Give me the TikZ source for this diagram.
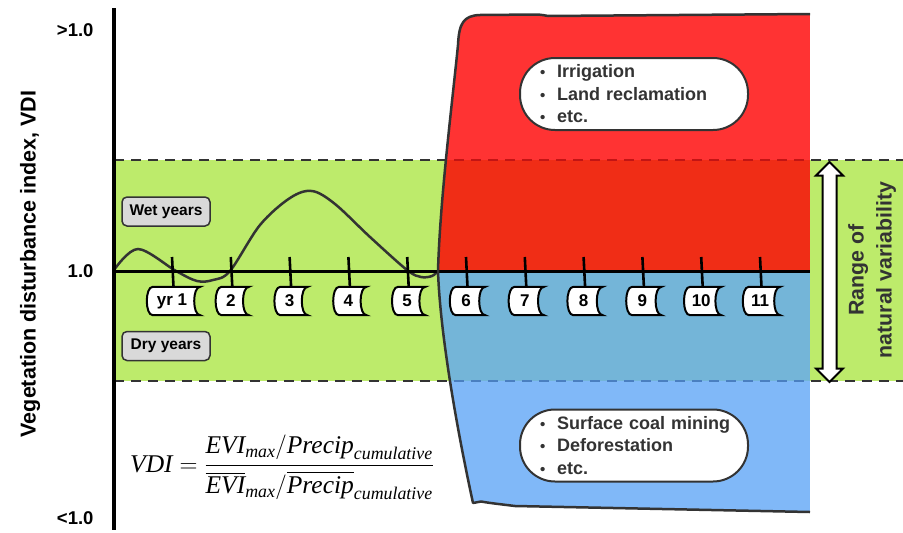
\documentclass[tikz,border=0pt]{standalone}
\usepackage{amsmath}
\usepackage{fontspec}
\setmainfont{Liberation Sans}
\newfontfamily\tnr{Liberation Serif}
\usetikzlibrary{calc}
\definecolor{vgreen}{RGB}{189,235,107}
\definecolor{redtop}{RGB}{255,51,51}
\definecolor{redmid}{RGB}{240,45,22}
\definecolor{bluemid}{RGB}{116,181,216}
\definecolor{bluebot}{RGB}{128,184,248}
\definecolor{dark}{RGB}{51,51,51}
\definecolor{dashred}{RGB}{195,20,20}
\definecolor{dashblue}{RGB}{74,127,192}
\definecolor{boxgray}{RGB}{217,217,217}
\newcommand\ti[1]{\text{\tnr\itshape #1}}
\newcommand\bul{\hspace*{5pt}\makebox[17pt][l]{\fontsize{15}{15}\selectfont\textbullet}}
\newcommand\yrlab[4]{%
  \coordinate (t#1) at (#2,257);
  \node[minimum width=#4pt, minimum height=28pt, inner sep=0pt] (#1) at (#2+1.5,301) {};
  \draw[yrshape] ([xshift=6pt]#1.north west) -- (#1.north east)
     .. controls ([xshift=-8pt]#1.north east) and ([xshift=-8pt]#1.south east) .. (#1.south east)
     -- ([xshift=6pt]#1.south west)
     .. controls ([xshift=-2pt]#1.south west) and ([xshift=-2pt]#1.north west) .. cycle;
  \node[yrtext] at ([xshift=-1.5pt]#1.center) {#3};
  \draw[line width=2.6pt] (t#1) -- (#1.north);
}
\def\shapepath{(810,14) -- (548,16) .. controls (544,15.2) .. (538,14.5) -- (480,15)
  .. controls (463,15.5) and (459,24) .. (458,45)
  .. controls (452,105) and (440,200) .. (438,271)
  .. controls (440,330) and (455,420) .. (473,503)
  -- (481,501.5) .. controls (490,503) .. (515,506) -- (810,512)}
\begin{document}
\begin{tikzpicture}[x=1pt,y=-1pt,
  yrshape/.style={draw=black, line width=2pt, fill=white},
  yrtext/.style={font=\fontsize{17}{17}\selectfont\bfseries},
  dashln/.style={line width=2.8pt, dash pattern=on 10pt off 7pt},
  graybox/.style={draw=dark, line width=1.5pt, fill=boxgray, rounded corners=5pt,
     minimum width=88pt, minimum height=29pt, inner sep=0pt, font=\fontsize{15.5}{15.5}\selectfont\bfseries},
  bulletbox/.style={draw=dark, line width=2pt, fill=white, rounded corners=35pt,
     minimum width=228pt, minimum height=72pt, inner xsep=15pt, text width=198pt, align=left,
     text=dark, font=\fontsize{18}{22.5}\selectfont\bfseries},
  axlab/.style={font=\fontsize{18.5}{18.5}\selectfont\bfseries, anchor=east}]
\useasboundingbox (0,0) rectangle (903,533);
% green band
\fill[vgreen] (114,160) rectangle (903,381);
% dashed range lines
\coordinate (dtl) at (114,160); \coordinate (dtr) at (903,160);
\coordinate (dbl) at (114,381); \coordinate (dbr) at (903,381);
\draw[dashln, dark] (dtl) -- (dtr);
\draw[dashln, dark] (dbl) -- (dbr);
% shape fills
\begin{scope}
  \clip \shapepath -- cycle;
  \fill[redtop] (400,0) rectangle (810,160);
  \fill[redmid] (400,160) rectangle (810,271);
  \fill[bluemid] (400,271) rectangle (810,381);
  \fill[bluebot] (400,381) rectangle (810,533);
  \draw[dashln, dashred] (dtl) -- (dtr);
  \draw[dashln, dashblue] (dbl) -- (dbr);
\end{scope}
% curve
\draw[dark, line width=2.5pt, line cap=round] plot[smooth, tension=0.55] coordinates
  {(114,270) (138,249) (176,271) (197,281) (213,280) (230,271) (260,225) (290,198)
   (312,191) (335,204) (370,237) (407,270) (421,277) (432,276) (438,271)};
% axes
\coordinate (ytop) at (114,8); \coordinate (ybot) at (114,530);
\coordinate (xl) at (114,271); \coordinate (xr) at (810,271);
\draw[line width=3pt] (xl) -- (xr);
\draw[line width=3.2pt] (ytop) -- (ybot);
% shape outline
\draw[dark, line width=2.5pt, line join=round] \shapepath;
% years
\yrlab{y1}{172}{yr 1}{53}
\yrlab{y2}{230.8}{2}{33}
\yrlab{y3}{289.6}{3}{33}
\yrlab{y4}{348.4}{4}{33}
\yrlab{y5}{407.2}{5}{33}
\yrlab{y6}{466}{6}{35}
\yrlab{y7}{524.8}{7}{35}
\yrlab{y8}{583.6}{8}{35}
\yrlab{y9}{642.4}{9}{35}
\yrlab{y10}{701.2}{10}{37}
\yrlab{y11}{760}{11}{37}
% wet / dry
\node[graybox] (wet) at (166,211.5) {Wet years};
\node[graybox] (dry) at (166,346) {Dry years};
% bullet boxes
\node[bulletbox] (up) at (634,94) {\bul Irrigation\\ \bul Land reclamation\\ \bul etc.};
\node[bulletbox] (down) at (634,445.5) {\bul Surface coal mining\\ \bul Deforestation\\ \bul etc.};
% double arrow
\draw[line width=2pt, fill=white] (829.5,162) -- (843,175.5) -- (836.5,175.5) -- (836.5,368.5)
  -- (843,368.5) -- (829.5,382) -- (816,368.5) -- (822.5,368.5) -- (822.5,175.5) -- (816,175.5) -- cycle;
\node[rotate=90, align=center, text=dark, font=\fontsize{21.3}{28}\selectfont\bfseries] (range) at (872,270)
  {Range of\\natural variability};
% axis labels
\node[axlab] (hi) at (97,30) {>1.0};
\node[axlab] (mid) at (97,271) {1.0};
\node[axlab] (lo) at (97,518) {<1.0};
\node[rotate=90, font=\fontsize{21.5}{21.5}\selectfont\bfseries] (ylab) at (30,264)
  {Vegetation disturbance index, VDI};
% formula
\node[anchor=base west, inner sep=0pt] (formula) at (130,472) {\fontsize{25.5}{30}\selectfont
  $\ti{VDI} = \dfrac{\ti{EVI}_{\ti{max}}/\ti{Precip}_{\ti{cumulative}}\rule[-9pt]{0pt}{9pt}}
   {\rule{0pt}{24pt}\overline{\ti{EVI}}_{\ti{max}}/\overline{\ti{Precip}}_{\ti{cumulative}}}$};
\end{tikzpicture}
\end{document}
